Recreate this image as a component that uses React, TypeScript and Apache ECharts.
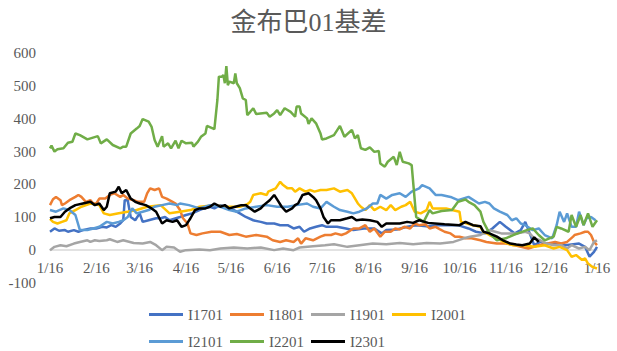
import React, { useEffect, useRef } from "react";
import * as echarts from "echarts";

// x values are days counted from 1/16 (the first tick); one tick every month
const monthDays = [0, 31, 60, 91, 121, 152, 182, 213, 244, 274, 305, 335, 366];
const tickLabels = ["1/16", "2/16", "3/16", "4/16", "5/16", "6/16", "7/16", "8/16", "9/16", "10/16", "11/16", "12/16", "1/16"];

const seriesNames = ["I1701", "I1801", "I1901", "I2001", "I2101", "I2201", "I2301"];
const seriesColors = ["#4472C4", "#ED7D31", "#A5A5A5", "#FFC000", "#5B9BD5", "#70AD47", "#000000"];

const i1701 = [[0,56],[3,66],[6,59],[10,61],[12,56],[16,61],[19,56],[22,61],[27,66],[31,66],[35,71],[38,69],[41,76],[44,71],[47,81],[49,91],[50,152],[52,152],[54,101],[57,91],[60,112],[62,86],[66,91],[71,97],[74,97],[77,101],[80,91],[87,101],[91,107],[95,112],[100,122],[103,127],[107,132],[110,127],[114,137],[117,132],[120,127],[123,122],[127,112],[131,101],[136,91],[141,86],[145,81],[150,81],[154,76],[159,76],[163,66],[167,71],[170,56],[174,66],[178,71],[182,76],[185,71],[188,71],[192,71],[198,66],[203,61],[210,66],[217,66],[222,51],[225,61],[232,63],[239,71],[245,76],[252,73],[259,76],[266,76],[273,76],[280,66],[285,56],[291,51],[296,66],[301,86],[305,71],[311,51],[315,61],[318,86],[321,51],[324,15],[328,25],[331,20],[338,20],[345,15],[354,20],[358,10],[361,-20],[364,-5],[366,10]];
const i1801 = [[0,137],[2,155],[4,162],[7,152],[8,137],[10,142],[13,152],[17,162],[19,168],[21,162],[24,147],[27,152],[29,142],[31,142],[33,157],[37,157],[40,168],[43,173],[47,162],[49,168],[52,157],[56,152],[59,147],[63,147],[65,173],[67,188],[70,183],[73,188],[75,162],[78,157],[82,147],[84,142],[87,122],[89,97],[92,81],[94,51],[98,46],[102,51],[108,56],[114,56],[120,46],[125,49],[131,41],[138,46],[145,41],[149,30],[154,25],[158,30],[163,25],[166,36],[168,20],[171,36],[176,30],[181,41],[184,46],[188,46],[191,51],[195,46],[198,51],[203,66],[207,66],[211,76],[214,56],[217,66],[221,41],[224,56],[228,56],[231,66],[234,63],[237,71],[241,66],[244,81],[247,76],[251,79],[254,66],[258,71],[261,63],[264,56],[268,51],[271,41],[274,41],[278,36],[282,36],[288,30],[292,25],[299,20],[305,20],[311,15],[320,5],[327,15],[333,20],[338,25],[342,20],[346,25],[350,41],[351,46],[355,51],[358,56],[360,56],[362,46],[364,25],[366,15]];
const i1901 = [[0,0],[3,10],[7,15],[11,12],[16,20],[20,25],[25,30],[27,25],[30,30],[33,28],[38,30],[40,33],[45,25],[49,30],[56,22],[62,20],[67,25],[71,15],[75,0],[78,10],[83,8],[87,-5],[91,0],[100,2],[107,0],[114,5],[123,8],[132,5],[141,8],[150,0],[156,5],[163,0],[167,8],[176,12],[184,15],[190,18],[199,10],[207,15],[216,20],[225,18],[234,22],[243,18],[252,22],[261,20],[270,25],[277,36],[281,41],[288,46],[294,61],[298,56],[302,51],[308,51],[313,51],[318,56],[321,51],[324,36],[328,30],[332,20],[337,15],[342,15],[346,5],[349,15],[354,5],[358,10],[361,0],[364,25],[366,30]];
const i2001 = [[0,95],[2,86],[5,81],[8,86],[11,91],[13,112],[15,117],[17,122],[21,132],[27,142],[33,137],[36,112],[40,107],[46,112],[52,117],[58,122],[65,132],[74,137],[80,112],[87,117],[94,122],[100,132],[110,137],[118,132],[127,132],[132,140],[134,147],[136,168],[141,173],[145,168],[146,178],[151,188],[154,208],[156,198],[159,188],[162,188],[164,178],[167,188],[171,178],[174,183],[177,178],[181,183],[185,183],[190,188],[194,178],[199,183],[202,173],[206,142],[208,132],[211,122],[214,137],[217,122],[221,132],[225,122],[228,137],[231,122],[235,132],[238,137],[241,147],[244,117],[248,112],[252,122],[254,147],[256,127],[260,127],[265,127],[269,122],[274,117],[275,86],[279,81],[283,76],[288,71],[290,56],[294,46],[299,36],[306,20],[310,15],[317,15],[324,10],[331,15],[337,5],[341,10],[346,0],[349,-20],[352,-15],[356,-30],[358,-25],[360,-41],[363,-51],[366,-56]];
const i2101 = [[0,122],[4,117],[9,127],[13,122],[17,107],[20,61],[25,61],[29,66],[33,71],[38,86],[42,81],[46,86],[49,91],[52,101],[55,127],[58,112],[62,117],[66,122],[70,132],[75,137],[80,142],[85,137],[87,142],[93,137],[100,127],[107,137],[114,132],[120,122],[125,117],[131,127],[138,132],[145,137],[152,132],[159,132],[165,137],[172,142],[176,132],[181,127],[184,142],[185,147],[190,132],[194,122],[199,117],[203,112],[207,117],[212,127],[216,142],[219,142],[221,168],[225,157],[229,168],[234,173],[238,162],[242,178],[247,188],[249,198],[254,188],[258,168],[262,168],[268,162],[273,152],[280,162],[287,142],[291,147],[294,142],[297,127],[301,117],[306,107],[309,91],[312,97],[315,81],[318,76],[323,61],[327,66],[331,46],[336,36],[339,76],[341,117],[344,86],[346,112],[349,71],[352,71],[354,117],[357,76],[359,97],[362,101],[365,91]];
const i2201 = [[0,310],[1,318],[3,300],[5,307],[9,310],[12,327],[15,330],[17,355],[20,350],[25,337],[32,347],[34,325],[38,337],[42,320],[47,310],[49,315],[51,315],[54,355],[58,370],[60,378],[62,399],[66,391],[68,375],[70,335],[72,315],[75,347],[76,315],[79,325],[81,310],[84,333],[86,310],[88,333],[91,325],[95,327],[96,315],[99,330],[101,345],[104,355],[105,378],[110,368],[112,457],[113,528],[115,528],[116,533],[117,508],[118,560],[119,502],[120,513],[123,508],[124,538],[125,508],[127,493],[129,462],[131,457],[132,411],[134,421],[136,432],[138,414],[145,418],[147,406],[150,416],[152,426],[154,411],[157,432],[161,421],[164,406],[165,437],[167,437],[168,416],[172,401],[173,384],[175,401],[178,386],[181,355],[182,337],[185,340],[190,350],[194,378],[197,345],[202,366],[204,340],[206,350],[208,310],[211,305],[214,313],[217,299],[220,302],[221,264],[224,254],[226,269],[230,284],[232,259],[234,299],[236,269],[240,264],[242,259],[245,101],[250,86],[254,122],[256,112],[262,119],[269,122],[273,147],[278,154],[280,147],[284,137],[288,117],[290,86],[294,51],[299,30],[305,36],[310,46],[313,51],[319,61],[323,66],[327,46],[331,30],[337,41],[339,71],[342,66],[347,56],[349,107],[352,71],[355,107],[357,76],[360,112],[363,71],[366,91]];
const i2301 = [[0,97],[3,101],[7,101],[10,117],[13,127],[17,137],[22,142],[27,147],[30,137],[33,142],[36,122],[38,132],[40,173],[44,178],[46,193],[48,173],[51,183],[54,157],[57,147],[60,142],[64,137],[68,127],[71,117],[75,81],[78,91],[82,86],[85,91],[88,71],[91,76],[94,97],[97,122],[100,127],[104,127],[107,132],[110,142],[114,132],[117,137],[120,127],[124,132],[128,137],[131,137],[134,127],[137,117],[141,127],[143,137],[147,152],[150,168],[153,147],[155,132],[158,117],[162,127],[164,137],[166,142],[169,168],[173,173],[176,162],[178,152],[181,127],[183,101],[186,81],[188,91],[194,91],[199,97],[202,101],[205,91],[209,93],[214,91],[219,86],[222,71],[225,81],[230,81],[234,81],[239,86],[243,83],[247,91],[253,83],[264,79],[274,76],[278,86],[283,76],[288,73],[290,56],[294,51],[299,41],[303,30],[308,20],[312,17],[316,15],[321,20],[324,39],[327,25]];

const seriesData = [i1701, i1801, i1901, i2001, i2101, i2201, i2301];

const FONT = "Liberation Serif, Noto Sans CJK SC, serif";
const TEXT = "#595959";

export default function App() {
  const ref = useRef<HTMLDivElement>(null);
  useEffect(() => {
    if (!ref.current) return;
    const chart = echarts.init(ref.current, null, { renderer: "svg" });
    const legendBase = {
      left: 144,
      itemWidth: 34,
      itemHeight: 3,
      itemGap: 7,
      icon: "rect",
      textStyle: { fontFamily: FONT, fontSize: 15, color: TEXT },
    };
    chart.setOption({
      animation: false,
      title: {
        text: "金布巴01基差",
        left: "center",
        top: 4,
        textStyle: { fontFamily: FONT, fontSize: 26, fontWeight: "normal", color: TEXT },
      },
      legend: [
        { ...legendBase, top: 302, data: seriesNames.slice(0, 4) },
        { ...legendBase, top: 329, data: seriesNames.slice(4) },
      ],
      grid: { left: 50, right: 20, top: 53, bottom: 68, containLabel: false },
      xAxis: {
        type: "value",
        min: 0,
        max: 366,
        offset: -33,
        axisLine: { show: true, onZero: false, lineStyle: { color: "#D9D9D9", width: 1.5 } },
        axisTick: { show: false },
        splitLine: { show: false },
        axisLabel: {
          customValues: monthDays,
          formatter: (v: number) => tickLabels[monthDays.indexOf(v)] ?? "",
          fontFamily: FONT,
          fontSize: 15,
          color: TEXT,
          margin: 10,
        },
      },
      yAxis: {
        type: "value",
        min: -100,
        max: 600,
        interval: 100,
        axisLine: { show: false, onZero: false },
        axisTick: { show: false },
        splitLine: { show: false },
        axisLabel: { fontFamily: FONT, fontSize: 15, color: TEXT, margin: 14 },
      },
      series: seriesNames.map((name, i) => ({
        name,
        type: "line",
        data: seriesData[i],
        showSymbol: false,
        symbol: "none",
        color: seriesColors[i],
        lineStyle: { width: 2.5, color: seriesColors[i] },
        clip: false,
      })),
    });
    return () => chart.dispose();
  }, []);
  return (
    <div
      ref={ref}
      style={{ position: "fixed", left: 0, top: 0, width: 617, height: 351, background: "#fff" }}
    />
  );
}
